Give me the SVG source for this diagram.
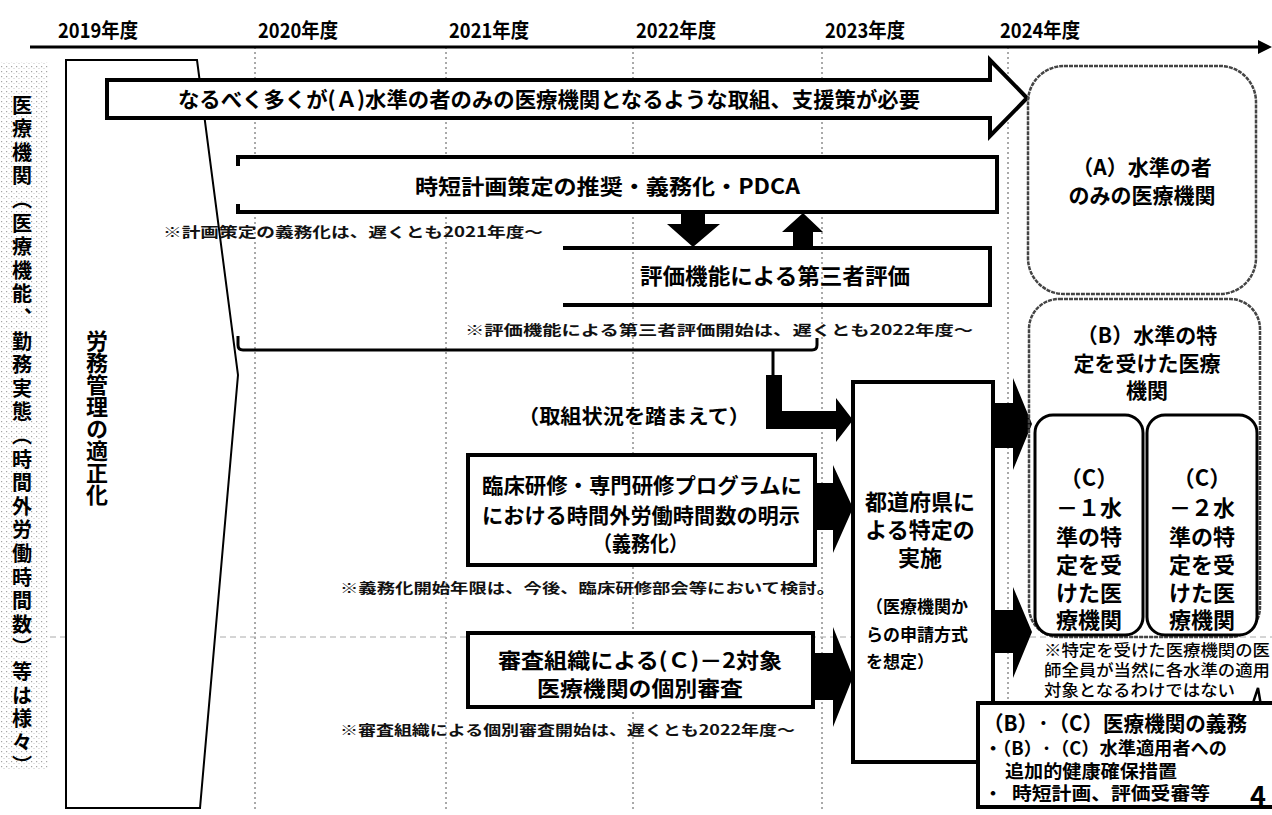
<svg xmlns="http://www.w3.org/2000/svg" width="1272" height="815" viewBox="0 0 1272 815">
<style>
text{font-family:"Noto Sans CJK JP","Noto Sans CJK SC",sans-serif;fill:#000}
.h{font-weight:700}
.n{font-weight:700;fill:#111}
.yr{font-size:20px;font-weight:700}
.box{fill:#fff;stroke:#000;stroke-width:4}
.open{fill:none;stroke:#000;stroke-width:4}
.grid{stroke:#555;stroke-width:1;stroke-dasharray:2 3;fill:none}
.soft{fill:none;stroke:#444;stroke-width:2.5;stroke-dasharray:4 1}
.blk{fill:#000;stroke:none}
.vt{writing-mode:vertical-rl;text-orientation:mixed}
</style>
<defs>
<pattern id="dots" width="5" height="5" patternUnits="userSpaceOnUse">
<rect width="5" height="5" fill="#fff"/>
<rect x="1" y="1" width="1.2" height="1.2" fill="#a5a5a5"/>
<rect x="3.5" y="3" width="1" height="1" fill="#c5c5c5"/>
</pattern>
</defs>
<rect width="1272" height="815" fill="#fff"/>

<!-- grid of year dividers -->
<g id="grid">
<line class="grid" x1="255" y1="47" x2="255" y2="812"/>
<line class="grid" x1="446" y1="47" x2="446" y2="812"/>
<line class="grid" x1="633" y1="47" x2="633" y2="812"/>
<line class="grid" x1="822" y1="47" x2="822" y2="812"/>
<line class="grid" x1="1008" y1="47" x2="1008" y2="812"/>
<line x1="0" y1="637" x2="1272" y2="637" stroke="#aaa" stroke-width="1" stroke-dasharray="6 4"/>
</g>

<!-- timeline -->
<g id="timeline">
<line x1="30" y1="47" x2="1262" y2="47" stroke="#000" stroke-width="3"/>
<polygon points="1258,40 1272,47 1258,54" fill="#000"/>
<text class="yr" x="58" y="38" textLength="80" lengthAdjust="spacingAndGlyphs">2019年度</text>
<text class="yr" x="258" y="38" textLength="80" lengthAdjust="spacingAndGlyphs">2020年度</text>
<text class="yr" x="449" y="38" textLength="80" lengthAdjust="spacingAndGlyphs">2021年度</text>
<text class="yr" x="636" y="38" textLength="80" lengthAdjust="spacingAndGlyphs">2022年度</text>
<text class="yr" x="825" y="38" textLength="80" lengthAdjust="spacingAndGlyphs">2023年度</text>
<text class="yr" x="1000" y="38" textLength="80" lengthAdjust="spacingAndGlyphs">2024年度</text>
</g>

<!-- left strip -->
<g id="left-strip">
<rect x="0" y="62" width="48" height="708" fill="url(#dots)"/>
<text class="h vt" x="22" y="95" font-size="20" letter-spacing="3.6">医療機関（医療機能、勤務実態（時間外労働時間数）等は様々）</text>
</g>

<!-- pentagon arrow -->
<g id="labor">
<polygon points="66,60 197,60 238,375 200,808 66,808" fill="#fff" stroke="#000" stroke-width="2"/>
<text class="h vt" x="97" y="330" font-size="22">労務管理の適正化</text>
</g>

<!-- big arrow -->
<g id="arrow-A">
<path class="box" d="M107,80 H990 V60 L1027,98 L990,136 V118 H107 Z"/>
<text class="h" x="178" y="107" font-size="21" textLength="742" lengthAdjust="spacingAndGlyphs">なるべく多くが(Ａ)水準の者のみの医療機関となるような取組、支援策が必要</text>
</g>

<!-- PDCA box -->
<g id="pdca">
<rect x="238" y="157" width="759" height="55" fill="#fff"/>
<path class="open" d="M238,166 V157 H997 V212 H238 V204"/>
<text class="h" x="415" y="194" font-size="21" textLength="385" lengthAdjust="spacingAndGlyphs">時短計画策定の推奨・義務化・PDCA</text>
</g>
<text class="n" x="163" y="237" font-size="14" textLength="380" lengthAdjust="spacingAndGlyphs">※計画策定の義務化は、遅くとも2021年度～</text>

<!-- up/down arrows -->
<g id="pdca-arrows">
<polygon class="blk" points="681,212 705,212 705,224 720,224 693,247 667,224 681,224"/>
<polygon class="blk" points="803,213 823,232 813,232 813,248 793,248 793,232 782,232"/>
</g>

<!-- third-party evaluation -->
<g id="eval">
<path class="open" d="M563,248 H990 V305 H563"/>
<text class="h" x="640" y="284" font-size="22" textLength="270" lengthAdjust="spacingAndGlyphs">評価機能による第三者評価</text>
</g>
<text class="n" x="465" y="335" font-size="14" textLength="508" lengthAdjust="spacingAndGlyphs">※評価機能による第三者評価開始は、遅くとも2022年度～</text>

<!-- bracket and arrows -->
<g id="connectors">
<path d="M238,336 V345 Q238,350 243,350 H812 Q817,350 817,345 V338" fill="none" stroke="#000" stroke-width="3"/>
<line x1="773" y1="350" x2="773" y2="376" stroke="#000" stroke-width="3"/>
<path class="blk" d="M766,375 H782 V411 H836 V398 L853,420 L836,442 V429 H766 Z"/>
<path class="blk" d="M815,483 H833 V465 L853,508 L833,553 V530 H815 Z"/>
<path class="blk" d="M815,653 H833 V627 L853,677 L833,727 V700 H815 Z"/>
<path class="blk" d="M995,403 H1013 V378 L1032,424 L1013,470 V448 H995 Z"/>
<path class="blk" d="M995,610 H1013 V587 L1032,632 L1013,678 V653 H995 Z"/>
</g>
<text class="h" x="518" y="424" font-size="20" textLength="232" lengthAdjust="spacingAndGlyphs">（取組状況を踏まえて）</text>

<!-- clinical training box -->
<g id="training">
<rect class="box" x="468" y="455" width="347" height="110"/>
<text class="h" font-size="21" lengthAdjust="spacingAndGlyphs"><tspan x="482" y="493" textLength="320" lengthAdjust="spacingAndGlyphs">臨床研修・専門研修プログラムに</tspan><tspan x="482" y="523" textLength="318" lengthAdjust="spacingAndGlyphs">における時間外労働時間数の明示</tspan><tspan x="593" y="551" textLength="95" lengthAdjust="spacingAndGlyphs">（義務化）</tspan></text>
</g>
<text class="n" x="340" y="593" font-size="14" textLength="495" lengthAdjust="spacingAndGlyphs">※義務化開始年限は、今後、臨床研修部会等において検討。</text>

<!-- review box -->
<g id="review">
<rect class="box" x="468" y="633" width="345" height="74"/>
<text class="h" font-size="21"><tspan x="498" y="668" textLength="284" lengthAdjust="spacingAndGlyphs">審査組織による(Ｃ)－2対象</tspan><tspan x="537" y="696" textLength="206" lengthAdjust="spacingAndGlyphs">医療機関の個別審査</tspan></text>
</g>
<text class="n" x="340" y="735" font-size="14" textLength="455" lengthAdjust="spacingAndGlyphs">※審査組織による個別審査開始は、遅くとも2022年度～</text>

<!-- prefecture box -->
<g id="prefecture">
<rect class="box" x="853" y="382" width="140" height="380"/>
<text class="h" font-size="22" text-anchor="middle"><tspan x="920" y="510">都道府県に</tspan><tspan x="920" y="538">よる特定の</tspan><tspan x="920" y="566">実施</tspan></text>
<text class="h" font-size="17"><tspan x="866" y="613">（医療機関か</tspan><tspan x="866" y="641">らの申請方式</tspan><tspan x="866" y="668">を想定）</tspan></text>
</g>

<!-- (A) box -->
<g id="levelA">
<rect class="soft" x="1028" y="66" width="228" height="228" rx="36" fill="#fff"/>
<text class="h" font-size="21" text-anchor="middle"><tspan x="1142" y="175">（A）水準の者</tspan><tspan x="1142" y="203">のみの医療機関</tspan></text>
</g>

<!-- (B) box -->
<g id="levelB">
<rect class="soft" x="1029" y="299" width="231" height="338" rx="30" fill="none"/>
<text class="h" font-size="21" text-anchor="middle"><tspan x="1147" y="343">（B）水準の特</tspan><tspan x="1147" y="371">定を受けた医療</tspan><tspan x="1147" y="398">機関</tspan></text>
</g>

<!-- (C)-1 box -->
<g id="levelC1">
<rect x="1035" y="415" width="108" height="220" rx="18" fill="#fff" stroke="#000" stroke-width="3"/>
<text class="h" font-size="22" text-anchor="middle"><tspan x="1089" y="486">（C）</tspan><tspan x="1089" y="516">－１水</tspan><tspan x="1089" y="545">準の特</tspan><tspan x="1089" y="573">定を受</tspan><tspan x="1089" y="601">けた医</tspan><tspan x="1089" y="628">療機関</tspan></text>
</g>

<!-- (C)-2 box -->
<g id="levelC2">
<rect x="1147" y="415" width="110" height="220" rx="18" fill="#fff" stroke="#000" stroke-width="3"/>
<text class="h" font-size="22" text-anchor="middle"><tspan x="1202" y="486">（C）</tspan><tspan x="1202" y="516">－２水</tspan><tspan x="1202" y="545">準の特</tspan><tspan x="1202" y="573">定を受</tspan><tspan x="1202" y="601">けた医</tspan><tspan x="1202" y="628">療機関</tspan></text>
</g>

<!-- note under C boxes -->
<g id="note-C">
<text font-size="16" font-weight="500"><tspan x="1044" y="656" textLength="226" lengthAdjust="spacingAndGlyphs">※特定を受けた医療機関の医</tspan><tspan x="1044" y="676" textLength="226" lengthAdjust="spacingAndGlyphs">師全員が当然に各水準の適用</tspan><tspan x="1044" y="696" textLength="191" lengthAdjust="spacingAndGlyphs">対象となるわけではない</tspan></text>
</g>

<!-- obligations box -->
<g id="obligations">
<path d="M980,703 H1253 L1258,688 L1272,770" fill="none" stroke="#000" stroke-width="2.5"/>
<rect x="978" y="703" width="302" height="104" fill="#fff" stroke="#000" stroke-width="4"/>
<text class="h"><tspan x="983" y="731" font-size="21" textLength="264" lengthAdjust="spacingAndGlyphs">（B）･（C）医療機関の義務</tspan><tspan x="984" y="755" font-size="18" textLength="243" lengthAdjust="spacingAndGlyphs">・（B）･（C）水準適用者への</tspan><tspan x="1005" y="778" font-size="18" textLength="172" lengthAdjust="spacingAndGlyphs">追加的健康確保措置</tspan><tspan x="984" y="800" font-size="18">・ </tspan><tspan x="1012" y="800" font-size="18" textLength="198" lengthAdjust="spacingAndGlyphs">時短計画、評価受審等</tspan></text>
<text class="h" x="1250" y="806" font-size="27">4</text>
</g>
</svg>
